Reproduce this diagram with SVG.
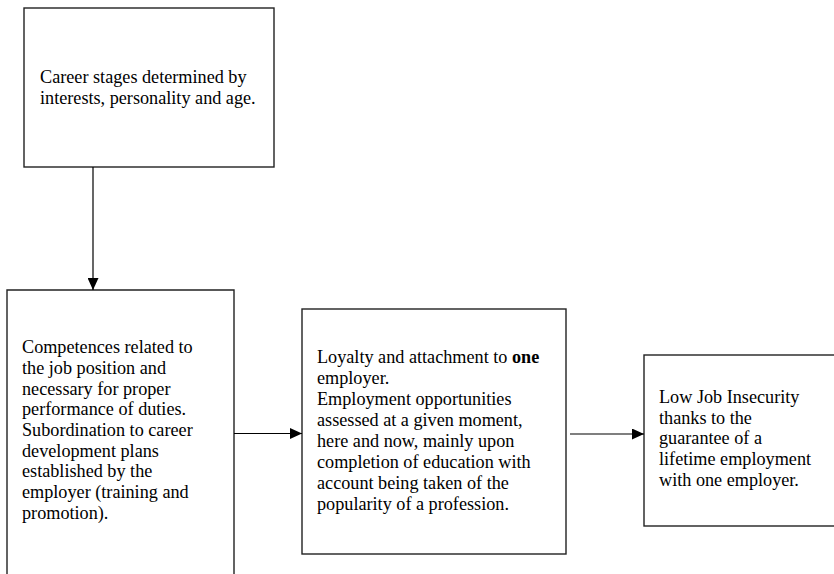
<svg xmlns="http://www.w3.org/2000/svg" width="834" height="574" viewBox="0 0 834 574">
  <style>
    .box { fill: #ffffff; stroke: #222222; stroke-width: 1.4; }
    .label { font-family: "Liberation Serif", "Times New Roman", serif; font-size: 18.2px; fill: #000000; }
    .conn { stroke: #000000; stroke-width: 1.2; fill: none; }
  </style>
  <defs>
    <marker id="arrow" markerWidth="12" markerHeight="11" refX="12" refY="5.5" orient="auto" markerUnits="userSpaceOnUse">
      <path d="M0,0 L12,5.5 L0,11 Z" fill="#000000"/>
    </marker>
  </defs>
  <rect width="834" height="574" fill="#ffffff"/>

  <g id="career-stages">
    <rect class="box" x="24" y="8" width="250" height="159"/>
    <text class="label" x="40" y="83">Career stages determined by</text>
    <text class="label" x="40" y="104">interests, personality and age.</text>
  </g>

  <g id="competences">
    <path class="box" d="M7,580 L7,290 L234,290 L234,580"/>
    <text class="label" x="22">
      <tspan x="22" y="353">Competences related to</tspan>
      <tspan x="22" y="374">the job position and</tspan>
      <tspan x="22" y="395">necessary for proper</tspan>
      <tspan x="22" y="415">performance of duties.</tspan>
      <tspan x="22" y="436">Subordination to career</tspan>
      <tspan x="22" y="457">development plans</tspan>
      <tspan x="22" y="477">established by the</tspan>
      <tspan x="22" y="498">employer (training and</tspan>
      <tspan x="22" y="519">promotion).</tspan>
    </text>
  </g>

  <g id="loyalty">
    <rect class="box" x="302" y="309" width="264" height="245"/>
    <text class="label">
      <tspan x="317" y="363">Loyalty and attachment to <tspan font-weight="bold">one</tspan></tspan>
      <tspan x="317" y="384">employer.</tspan>
      <tspan x="317" y="405">Employment opportunities</tspan>
      <tspan x="317" y="426">assessed at a given moment,</tspan>
      <tspan x="317" y="447">here and now, mainly upon</tspan>
      <tspan x="317" y="468">completion of education with</tspan>
      <tspan x="317" y="489">account being taken of the</tspan>
      <tspan x="317" y="510">popularity of a profession.</tspan>
    </text>
  </g>

  <g id="low-insecurity">
    <rect class="box" x="644" y="355" width="200" height="171"/>
    <text class="label">
      <tspan x="659" y="403">Low Job Insecurity</tspan>
      <tspan x="659" y="424">thanks to the</tspan>
      <tspan x="659" y="444">guarantee of a</tspan>
      <tspan x="659" y="465">lifetime employment</tspan>
      <tspan x="659" y="486">with one employer.</tspan>
    </text>
  </g>

  <g id="connectors">
    <line class="conn" x1="93" y1="167" x2="93" y2="290" marker-end="url(#arrow)"/>
    <line class="conn" x1="234" y1="433.5" x2="302" y2="433.5" marker-end="url(#arrow)"/>
    <line class="conn" x1="570" y1="434" x2="644" y2="434" marker-end="url(#arrow)"/>
  </g>
</svg>
